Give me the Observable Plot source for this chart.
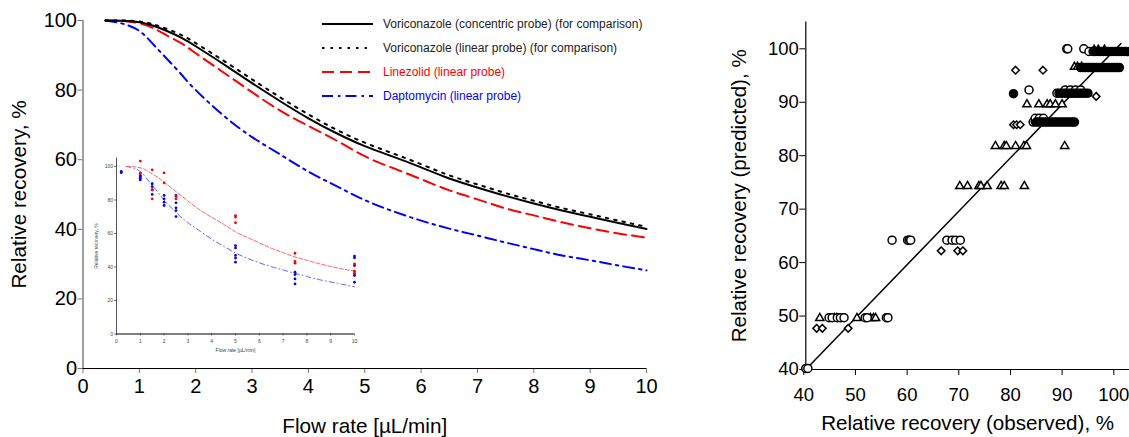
<!DOCTYPE html>
<html><head><meta charset="utf-8">
<script src="https://cdn.jsdelivr.net/npm/d3@7"></script>
<script src="https://cdn.jsdelivr.net/npm/@observablehq/plot@0.6"></script>
<style>
body{margin:0;background:#fff;font-family:"Liberation Sans",Arial,sans-serif;}
#wrap{position:relative;width:1129px;height:437px;overflow:hidden;}
#left,#right,#inset,#legend{position:absolute;}
#left{left:0;top:0;} #right{left:700px;top:0;} #inset{left:90px;top:150px;} #legend{left:0;top:0;}
</style></head><body>
<div id="wrap"><div id="left"></div><div id="inset"></div><div id="legend"></div><div id="right"></div></div>
<script>
// ---------- Left panel: model curves ----------
const flow = [0.4,0.7,1,1.25,1.5,1.75,2,2.5,3,3.5,4,4.5,5,5.5,6,6.5,7,7.5,8,8.5,9,9.5,10];
const voriConcentric = [100,99.9,99.5,98.5,96.9,95.0,92.6,87.4,82.0,76.8,71.9,67.6,63.9,60.9,57.8,54.6,52.0,49.6,47.4,45.4,43.6,41.8,40.1];
const voriLinear     = [100,100,99.7,98.9,97.5,95.8,93.5,88.4,83.1,77.9,73.0,68.6,64.9,61.8,58.7,55.5,52.9,50.4,48.2,46.1,44.3,42.5,40.7];
const linezolid      = [100,99.9,99.2,97.8,95.6,93.4,90.6,85.0,79.4,74.1,69.7,65.5,61.0,57.6,54.4,51.2,48.6,46.0,44.0,42.0,40.3,38.8,37.6];
const daptomycin     = [100,99.1,97.0,93.1,88.8,84.4,80.0,72.6,66.5,61.5,56.6,52.4,48.4,45.2,42.5,40.2,38.2,36.2,34.3,32.5,31.1,29.6,28.2];
const xTicksLeft = [0,1,2,3,4,5,6,7,8,9,10];
const yTicksLeft = [0,20,40,60,80,100];
const legendNames = ["Voriconazole (concentric probe) (for comparison)","Voriconazole (linear probe) (for comparison)","Linezolid (linear probe)","Daptomycin (linear probe)"];

// ---------- Inset: measured points ----------
const insetLinezolid = [[1,103.2],[1,96.0],[1.5,98.0],[1.5,86.1],[1.5,80.7],[2,96.2],[2,90.2],[2.5,82.1],[2.5,80.7],[5,70.7],[5,69.8],[5,66.4],[7.5,48.2],[7.5,43.3],[7.5,42.3],[10,41.9],[10,37.5],[10,36.3]];
const insetDaptomycin = [[0.2,96.3],[0.2,97.0],[1,92.0],[1,93.0],[1,94.0],[1,94.6],[1.5,89.7],[1.5,88.0],[1.5,86.0],[1.5,83.3],[2,82.7],[2,80.7],[2,78.7],[2,76.7],[2.5,82.7],[2.5,78.3],[2.5,75.3],[2.5,73.7],[2.5,70.1],[5,52.8],[5,51.4],[5,46.9],[5,45.3],[5,42.9],[7.5,36.9],[7.5,35.5],[7.5,32.9],[7.5,29.9],[10,46.5],[10,45.5],[10,40.9],[10,35.9],[10,34.9],[10,30.9]];

// ---------- Right panel: observed vs predicted ----------
const openCircles = [[40,40.2],[40.4,40.2],[44.5,49.7],[45.1,49.7],[46.1,49.7],[46.7,49.7],[47.4,49.7],[51.5,49.7],[51.9,49.7],[55.6,49.7],[55.9,49.7],
 [56.7,64.2],[59.7,64.2],[60.0,64.2],[60.3,64.2],[67.3,64.2],[68.3,64.2],[69.0,64.2],[69.9,64.2],
 [84.0,86.3],[84.4,86.4],[84.4,87.0],[85.2,87.0],[86.0,87.0],[83.2,92.3],[88.6,91.7],[90.2,92.3],[91.2,92.3],[92.2,92.3],[93.2,92.3],
 [90.5,100],[90.7,100],[93.8,100],[94.8,99.5]];
const filledCircles = [[80.2,91.6],
 [84.6,86.3],[85.1,86.3],[85.6,86.3],[86.1,86.3],[86.6,86.3],[87.1,86.3],[87.6,86.3],[88.1,86.3],[88.6,86.3],[89.1,86.3],[89.6,86.3],[90.1,86.3],[90.6,86.3],[91.1,86.3],[91.6,86.3],[92.0,86.3],
 [89.0,91.7],[89.5,91.7],[90.0,91.7],[90.5,91.7],[91.0,91.7],[91.5,91.7],[92.0,91.7],[92.5,91.7],[93.0,91.7],[93.5,91.7],[94.0,91.7],[94.6,91.7],
 [93.2,96.5],[93.7,96.5],[94.2,96.5],[94.7,96.5],[95.2,96.5],[95.7,96.5],[96.2,96.5],[96.7,96.5],[97.2,96.5],[97.7,96.5],[98.2,96.5],[98.7,96.5],[99.2,96.5],[99.7,96.5],[100.2,96.5],[100.7,96.5],
 [95.6,99.5],[96.1,99.5],[96.6,99.5],[97.1,99.5],[97.6,99.5],[98.1,99.5],[98.6,99.5],[99.1,99.5],[99.6,99.5],[100.1,99.5],[100.6,99.5],[101.1,99.5],[101.6,99.5],[102.1,99.5],[102.6,99.5]];
const diamonds = [[42.1,47.7],[43.2,47.7],[48.2,47.7],[66.2,62.2],[69.4,62.2],[70.4,62.2],[80.2,85.8],[80.8,85.8],[81.5,85.8],[80.6,96.0],[85.9,96.0],[96.2,91.1]];
const triangles = [[42.7,49.6],[45.5,49.6],[46.0,49.6],[49.9,49.6],[52.5,49.6],[53.1,49.6],[53.5,49.6],
 [69.8,74.3],[71.3,74.3],[73.5,74.3],[73.9,74.3],[75.1,74.3],[77.8,74.3],[78.4,74.3],[82.3,74.3],
 [76.7,81.8],[78.4,81.8],[78.8,81.8],[80.6,81.8],[82.2,81.8],[82.7,81.8],[90.1,81.8],
 [82.8,89.6],[85.1,89.6],[86.7,89.6],[87.3,89.6],[88.3,89.6],[89.6,89.6],
 [92.0,96.6],[92.6,96.6],[93.4,96.6],[95.8,99.8],[96.6,99.8],[97.8,99.8]];
const identityLine = [[40,40],[101,101]];
const xTicksRight = [40,50,60,70,80,90,100];
const yTicksRight = [40,50,60,70,80,90,100];

const FONT = "Liberation Sans, Arial, sans-serif";
const rows = (vals, name) => flow.map((f,i)=>({flow:f, value:vals[i], name}));

// ---------- main left plot ----------
const left = Plot.plot({
  width: 700, height: 437,
  marginLeft: 82.5, marginRight: 54, marginTop: 20, marginBottom: 69,
  x: {domain:[0,10]}, y: {domain:[0,100]},
  style: {fontFamily: FONT, fontSize: "20px", color: "#000", background: "transparent", overflow: "visible"},
  marks: [
    Plot.axisX({ticks: xTicksLeft, tickSize: 5, tickPadding: 5, stroke: "#777", fill: "#000", fontSize: 20,
      label: null}),
    Plot.axisX({ticks: [], tickSize: 0, fontSize: 20.7, fill: "#000",
      label: "Flow rate [µL/min]", labelAnchor: "center", labelOffset: 64, labelArrow: "none"}),
    Plot.axisY({ticks: yTicksLeft, tickSize: 5, tickPadding: 1, stroke: "#777", fill: "#000", fontSize: 20,
      label: null}),
    Plot.axisY({ticks: [], tickSize: 0, fontSize: 20.7, fill: "#000",
      label: "Relative recovery, %", labelAnchor: "center", labelOffset: 72, labelArrow: "none"}),
    Plot.ruleX([0], {stroke: "#808080", strokeWidth: 1.5}),
    Plot.ruleY([0], {stroke: "#000", strokeWidth: 1.2}),
    Plot.line(rows(daptomycin), {x: "flow", y: "value", stroke: "#0000ff", strokeWidth: 2, strokeDasharray: "11,5,2.5,5", curve: "natural"}),
    Plot.line(rows(linezolid), {x: "flow", y: "value", stroke: "#ff0000", strokeWidth: 2, strokeDasharray: "12,6", curve: "natural"}),
    Plot.line(rows(voriConcentric), {x: "flow", y: "value", stroke: "#000", strokeWidth: 2, curve: "natural"}),
    Plot.line(rows(voriLinear), {x: "flow", y: "value", stroke: "#000", strokeWidth: 2, strokeDasharray: "2.5,6", curve: "natural"})
  ]
});
document.getElementById("left").append(left);

// ---------- legend (overlay) ----------
const legendColors = ["#000","#000","#ff0000","#0000ff"];
const legendDash = [null,"2.5,6","12,6","11,5,2.5,5"];
const lg = d3.create("svg").attr("width",700).attr("height",110).style("font-family",FONT);
legendNames.forEach((n,i)=>{
  const y = 24 + i*24;
  lg.append("line").attr("x1",322).attr("x2",373).attr("y1",y).attr("y2",y)
    .attr("stroke",legendColors[i]).attr("stroke-width",2).attr("stroke-dasharray",legendDash[i]);
  lg.append("text").attr("x",383).attr("y",y+4).attr("font-size",12)
    .attr("fill", i<2 ? "#222" : legendColors[i]).text(n);
});
document.getElementById("legend").append(lg.node());

// ---------- inset ----------
const insetRows = (arr) => arr.map(([f,v])=>({flow:f, value:v}));
const inset = Plot.plot({
  width: 280, height: 215,
  marginLeft: 26, marginRight: 16, marginTop: 7.6, marginBottom: 31.5,
  x: {domain:[0,10]}, y: {domain:[0,105]},
  style: {fontFamily: FONT, fontSize: "5px", color: "#000", background: "transparent", overflow: "visible"},
  marks: [
    Plot.axisX({ticks: xTicksLeft, tickSize: 2, tickPadding: 3, stroke: "#777", fill: "#444", fontSize: 5,
      label: "Flow rate [µL/min]", labelAnchor: "center", labelOffset: 18, labelArrow: "none"}),
    Plot.axisY({ticks: yTicksLeft, tickSize: 2, tickPadding: 1.5, stroke: "#777", fill: "#444", fontSize: 5,
      label: "Relative recovery, %", labelAnchor: "center", labelOffset: 22, labelArrow: "none"}),
    Plot.ruleX([0], {stroke: "#555", strokeWidth: 1}),
    Plot.ruleY([0], {stroke: "#000", strokeWidth: 1}),
    Plot.line(rows(daptomycin), {x: "flow", y: "value", stroke: "#6060ff", strokeWidth: 1, strokeDasharray: "5,3,1,3", curve: "natural"}),
    Plot.line(rows(linezolid), {x: "flow", y: "value", stroke: "#ff6060", strokeWidth: 1, strokeDasharray: "4,2", curve: "natural"}),
    Plot.dot(insetRows(insetDaptomycin), {x: "flow", y: "value", fill: "#0000ff", r: 1.4}),
    Plot.dot(insetRows(insetLinezolid), {x: "flow", y: "value", fill: "#ff0000", r: 1.4})
  ]
});
document.getElementById("inset").append(inset);

// ---------- right plot ----------
const pts = (arr) => arr.map(([o,p])=>({obs:o, pred:p}));
const right = Plot.plot({
  width: 429, height: 437,
  marginLeft: 105.3, marginRight: 0, marginTop: 21.6, marginBottom: 68,
  x: {domain:[40,102.65]}, y: {domain:[40,105]},
  style: {fontFamily: FONT, fontSize: "18.5px", color: "#000", background: "transparent"},
  marks: [
    Plot.axisX({ticks: xTicksRight, tickSize: 6, tickPadding: 12, fontSize: 18.5, dx: -2, label: null}),
    Plot.axisX({ticks: [], tickSize: 0, fontSize: 20.6, label: "Relative recovery (observed), %", labelAnchor: "center", labelOffset: 60, labelArrow: "none"}),
    Plot.axisY({ticks: yTicksRight, tickSize: 6, tickPadding: 1, fontSize: 18.5, label: null}),
    Plot.axisY({ticks: [], tickSize: 0, fontSize: 20.6, label: "Relative recovery (predicted), %", labelAnchor: "center", labelOffset: 74, labelArrow: "none"}),
    Plot.ruleX([40], {stroke: "#000", strokeWidth: 1.2}),
    Plot.ruleY([40], {stroke: "#000", strokeWidth: 1.2}),
    Plot.line(pts(identityLine), {x: "obs", y: "pred", stroke: "#000", strokeWidth: 1.5}),
    Plot.dot(pts(diamonds), {x: "obs", y: "pred", symbol: "diamond2", r: 3.4, stroke: "#000", strokeWidth: 1.5, fill: "#fff"}),
    Plot.dot(pts(triangles), {x: "obs", y: "pred", symbol: "triangle2", r: 3.9, stroke: "#000", strokeWidth: 1.5, fill: "#fff"}),
    Plot.dot(pts(openCircles), {x: "obs", y: "pred", r: 4, stroke: "#000", strokeWidth: 1.5, fill: "#fff"}),
    Plot.dot(pts(filledCircles), {x: "obs", y: "pred", r: 4, stroke: "#000", strokeWidth: 1.5, fill: "#000"})
  ]
});
document.getElementById("right").append(right);
</script>
</body></html>
